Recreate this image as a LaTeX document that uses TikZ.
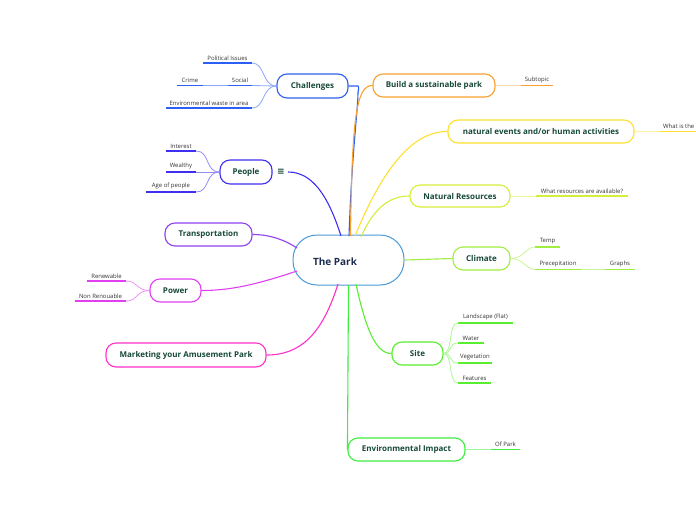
\documentclass[tikz,border=0pt]{standalone}
\usepackage{fontspec}
\setmainfont{Open Sans}
\newfontfamily\dejavu{DejaVu Sans}
\definecolor{tg}{HTML}{17493A}
\definecolor{parkc}{HTML}{4A9AD8}
\definecolor{parkt}{HTML}{1D2D50}
\definecolor{cblue}{HTML}{2D5EF5}
\definecolor{corange}{HTML}{F8A030}
\definecolor{cyellow}{HTML}{FFE030}
\definecolor{cyg}{HTML}{D4EE3A}
\definecolor{clg}{HTML}{A0EE40}
\definecolor{cgreen}{HTML}{5AEE30}
\definecolor{cgreenb}{HTML}{40EE40}
\definecolor{cviolet}{HTML}{3F2FF0}
\definecolor{cpurple}{HTML}{9040F0}
\definecolor{cmag}{HTML}{E040F0}
\definecolor{cpink}{HTML}{FF30C8}
\begin{document}
\begin{tikzpicture}[x=1pt,y=-1pt,
  topic/.style={draw, rounded corners=10pt, line width=1.1pt, fill=white,
    font=\bfseries\fontsize{8}{9}\selectfont, text=tg, inner sep=0pt, minimum height=23pt},
  sub/.style={font=\fontsize{5.95}{6.5}\selectfont, text=black!80, inner xsep=0pt, inner ysep=2.6pt, anchor=south},
  link/.style={line width=1.1pt},
  sublink/.style={line width=0.8pt},
  ul/.style={line width=1.8pt}
]
\useasboundingbox (0,0) rectangle (696,520);
\fill[white] (0,0) rectangle (696,520);

% central
\node[draw=parkc, line width=1pt, rounded corners=24pt, minimum width=111pt, minimum height=50pt,
  fill=white] (park) at (348.5,260) {};
\node[text=parkt, font=\bfseries\fontsize{10}{11}\selectfont, inner sep=0pt] (parklbl) at (335,262) {The Park};

% topics
\node[topic, draw=cblue, minimum width=71pt, minimum height=24pt] (chal) at (312.5,86) {Challenges};
\node[topic, draw=corange, minimum width=122pt] (build) at (434,85.5) {Build a sustainable park};
\node[topic, draw=cyellow, minimum width=186pt] (natev) at (541,131.5) {natural events and/or human activities};
\node[topic, draw=cyg, minimum width=100pt, minimum height=22pt] (natres) at (460,196) {Natural Resources};
\node[topic, draw=clg, minimum width=57pt] (climate) at (481.5,258.5) {Climate};
\node[topic, draw=cgreen, minimum width=51pt] (site) at (417.5,353.5) {Site};
\node[topic, draw=cgreenb, minimum width=117pt] (env) at (406.5,449.5) {Environmental Impact};
\node[topic, draw=cviolet, minimum width=52pt, minimum height=24pt] (people) at (246,172) {People};
\node[topic, draw=cpurple, minimum width=87pt] (trans) at (208.5,234.5) {Transportation};
\node[topic, draw=cmag, minimum width=51pt] (power) at (175.5,290.5) {Power};
\node[topic, draw=cpink, minimum width=160pt, minimum height=24pt] (mkt) at (186,355) {Marketing your Amusement Park};

\node[text=tg, font=\dejavu\bfseries\fontsize{9}{9}\selectfont, inner sep=0pt] (ppicon) at (281,172) {≡};

% coordinates for connector ends
\coordinate (pChal) at (349,236);
\coordinate (bChal) at (358,86);
\coordinate (pBuild) at (350.5,236);
\coordinate (pNatev) at (355,236);
\coordinate (pNatres) at (361,237);
\coordinate (pSite) at (356,284);
\coordinate (pEnv) at (348.5,285);
\coordinate (pMkt) at (338,284);
\coordinate (pPower) at (297,271);
\coordinate (pTrans) at (297,248);
\coordinate (pPeople) at (341,236);
\coordinate (ePeople) at (288,172);

% main connectors
\draw[link, draw=cblue] (pChal) .. controls (352,150) and (358,110) .. (358,92) to[out=-90,in=0,looseness=0.6] (bChal) -- (chal.east);
\draw[link, draw=corange] (pBuild) .. controls (352,120) and (356,85) .. (build.west);
\draw[link, draw=cyellow] (pNatev) .. controls (380,175) and (410,131) .. (natev.west);
\draw[link, draw=cyg] (pNatres) .. controls (375,205) and (392,196) .. (natres.west);
\draw[link, draw=clg] (park.east) -- (climate.west);
\draw[link, draw=cgreen] (pSite) .. controls (366,330) and (376,353.5) .. (site.west);
\draw[link, draw=cgreenb] (pEnv) -- (env.west);
\draw[link, draw=cpink] (pMkt) .. controls (322,335) and (300,355) .. (mkt.east);
\draw[link, draw=cmag] (pPower) .. controls (255,285) and (230,290.5) .. (power.east);
\draw[link, draw=cpurple] (pTrans) .. controls (285,240) and (270,234.5) .. (trans.east);
\draw[link, draw=cviolet] (pPeople) .. controls (328,195) and (312,172) .. (ePeople);

% Challenges subtopics
\node[sub, minimum width=49pt] (pol) at (227.5,63) {Political Issues};
\node[sub, minimum width=24pt] (soc) at (240,85.5) {Social};
\node[sub, minimum width=26pt] (crime) at (190,85.5) {Crime};
\node[sub, minimum width=86pt] (ewaste) at (209,108) {Environmental waste in area};
\draw[sublink, draw=cblue!55] (chal.west) .. controls (262,86) and (265,63) .. (pol.south east);
\draw[sublink, draw=cblue!55] (chal.west) -- (soc.south east);
\draw[sublink, draw=cblue!55] (soc.south west) -- (crime.south east);
\draw[sublink, draw=cblue!55] (chal.west) .. controls (262,86) and (265,108) .. (ewaste.south east);
\draw[ul, draw=cblue] (pol.south west) -- (pol.south east);
\draw[ul, draw=cblue] (soc.south west) -- (soc.south east);
\draw[ul, draw=cblue] (crime.south west) -- (crime.south east);
\draw[ul, draw=cblue] (ewaste.south west) -- (ewaste.south east);

% Build subtopic
\node[sub, minimum width=32pt] (subt) at (537,85.5) {Subtopic};
\draw[sublink, draw=corange!40] (build.east) -- (subt.south west);
\draw[ul, draw=corange] (subt.south west) -- (subt.south east);

% natural events subtopic
\node[sub, anchor=south west, inner xsep=3pt] (what) at (660,131.5) {What is the};
\coordinate (whatEnd) at (700,131.5);
\draw[sublink, draw=cyellow!45] (natev.east) -- (what.south west);
\draw[ul, draw=cyellow] (what.south west) -- (whatEnd);

% natural resources subtopic
\node[sub, minimum width=92pt] (wres) at (582,196) {What resources are available?};
\draw[sublink, draw=cyg!50] (natres.east) -- (wres.south west);
\draw[ul, draw=cyg] (wres.south west) -- (wres.south east);

% climate subtopics
\node[sub, minimum width=25pt] (temp) at (547.5,247) {Temp};
\node[sub, minimum width=46pt] (prec) at (558,269.5) {Precepitation};
\node[sub, minimum width=30pt] (graphs) at (620,269.5) {Graphs};
\draw[sublink, draw=clg!55] (climate.east) .. controls (524,258.5) and (526,247) .. (temp.south west);
\draw[sublink, draw=clg!55] (climate.east) .. controls (524,258.5) and (526,269.5) .. (prec.south west);
\draw[sublink, draw=clg!55] (prec.south east) -- (graphs.south west);
\draw[ul, draw=clg] (temp.south west) -- (temp.south east);
\draw[ul, draw=clg] (prec.south west) -- (prec.south east);
\draw[ul, draw=clg] (graphs.south west) -- (graphs.south east);

% site subtopics
\node[sub, minimum width=55pt] (land) at (485.5,323) {Landscape (Flat)};
\node[sub, minimum width=26pt] (water) at (471,343) {Water};
\node[sub, minimum width=34pt] (veg) at (475,363) {Vegetation};
\node[sub, minimum width=33pt] (feat) at (474.5,383) {Features};
\foreach \n/\yy in {land/323,water/343,veg/363,feat/383} {
  \draw[sublink, draw=cgreen!50] (site.east) .. controls (453,353.5) and (448,\yy) .. (\n.south west);
  \draw[ul, draw=cgreen] (\n.south west) -- (\n.south east);
}

% environmental impact subtopic
\node[sub, minimum width=29pt] (ofpark) at (505.5,449.5) {Of Park};
\draw[sublink, draw=cgreenb!50] (env.east) -- (ofpark.south west);
\draw[ul, draw=cgreenb] (ofpark.south west) -- (ofpark.south east);

% people subtopics
\node[sub, minimum width=30pt] (inter) at (181,151) {Interest};
\node[sub, minimum width=30pt] (wealth) at (181,172) {Wealthy};
\node[sub, minimum width=50pt] (age) at (171,192) {Age of people};
\draw[sublink, draw=cviolet!55] (people.west) .. controls (205,172) and (210,151) .. (inter.south east);
\draw[sublink, draw=cviolet!55] (people.west) -- (wealth.south east);
\draw[sublink, draw=cviolet!55] (people.west) .. controls (205,172) and (210,192) .. (age.south east);
\draw[ul, draw=cviolet] (inter.south west) -- (inter.south east);
\draw[ul, draw=cviolet] (wealth.south west) -- (wealth.south east);
\draw[ul, draw=cviolet] (age.south west) -- (age.south east);

% power subtopics
\node[sub, minimum width=39pt] (renew) at (106.5,281) {Renewable};
\node[sub, minimum width=51pt] (nonren) at (100.5,301) {Non Renouable};
\draw[sublink, draw=cmag!55] (power.west) .. controls (136,290.5) and (138,281) .. (renew.south east);
\draw[sublink, draw=cmag!55] (power.west) .. controls (136,290.5) and (138,301) .. (nonren.south east);
\draw[ul, draw=cmag] (renew.south west) -- (renew.south east);
\draw[ul, draw=cmag] (nonren.south west) -- (nonren.south east);
\end{tikzpicture}
\end{document}
